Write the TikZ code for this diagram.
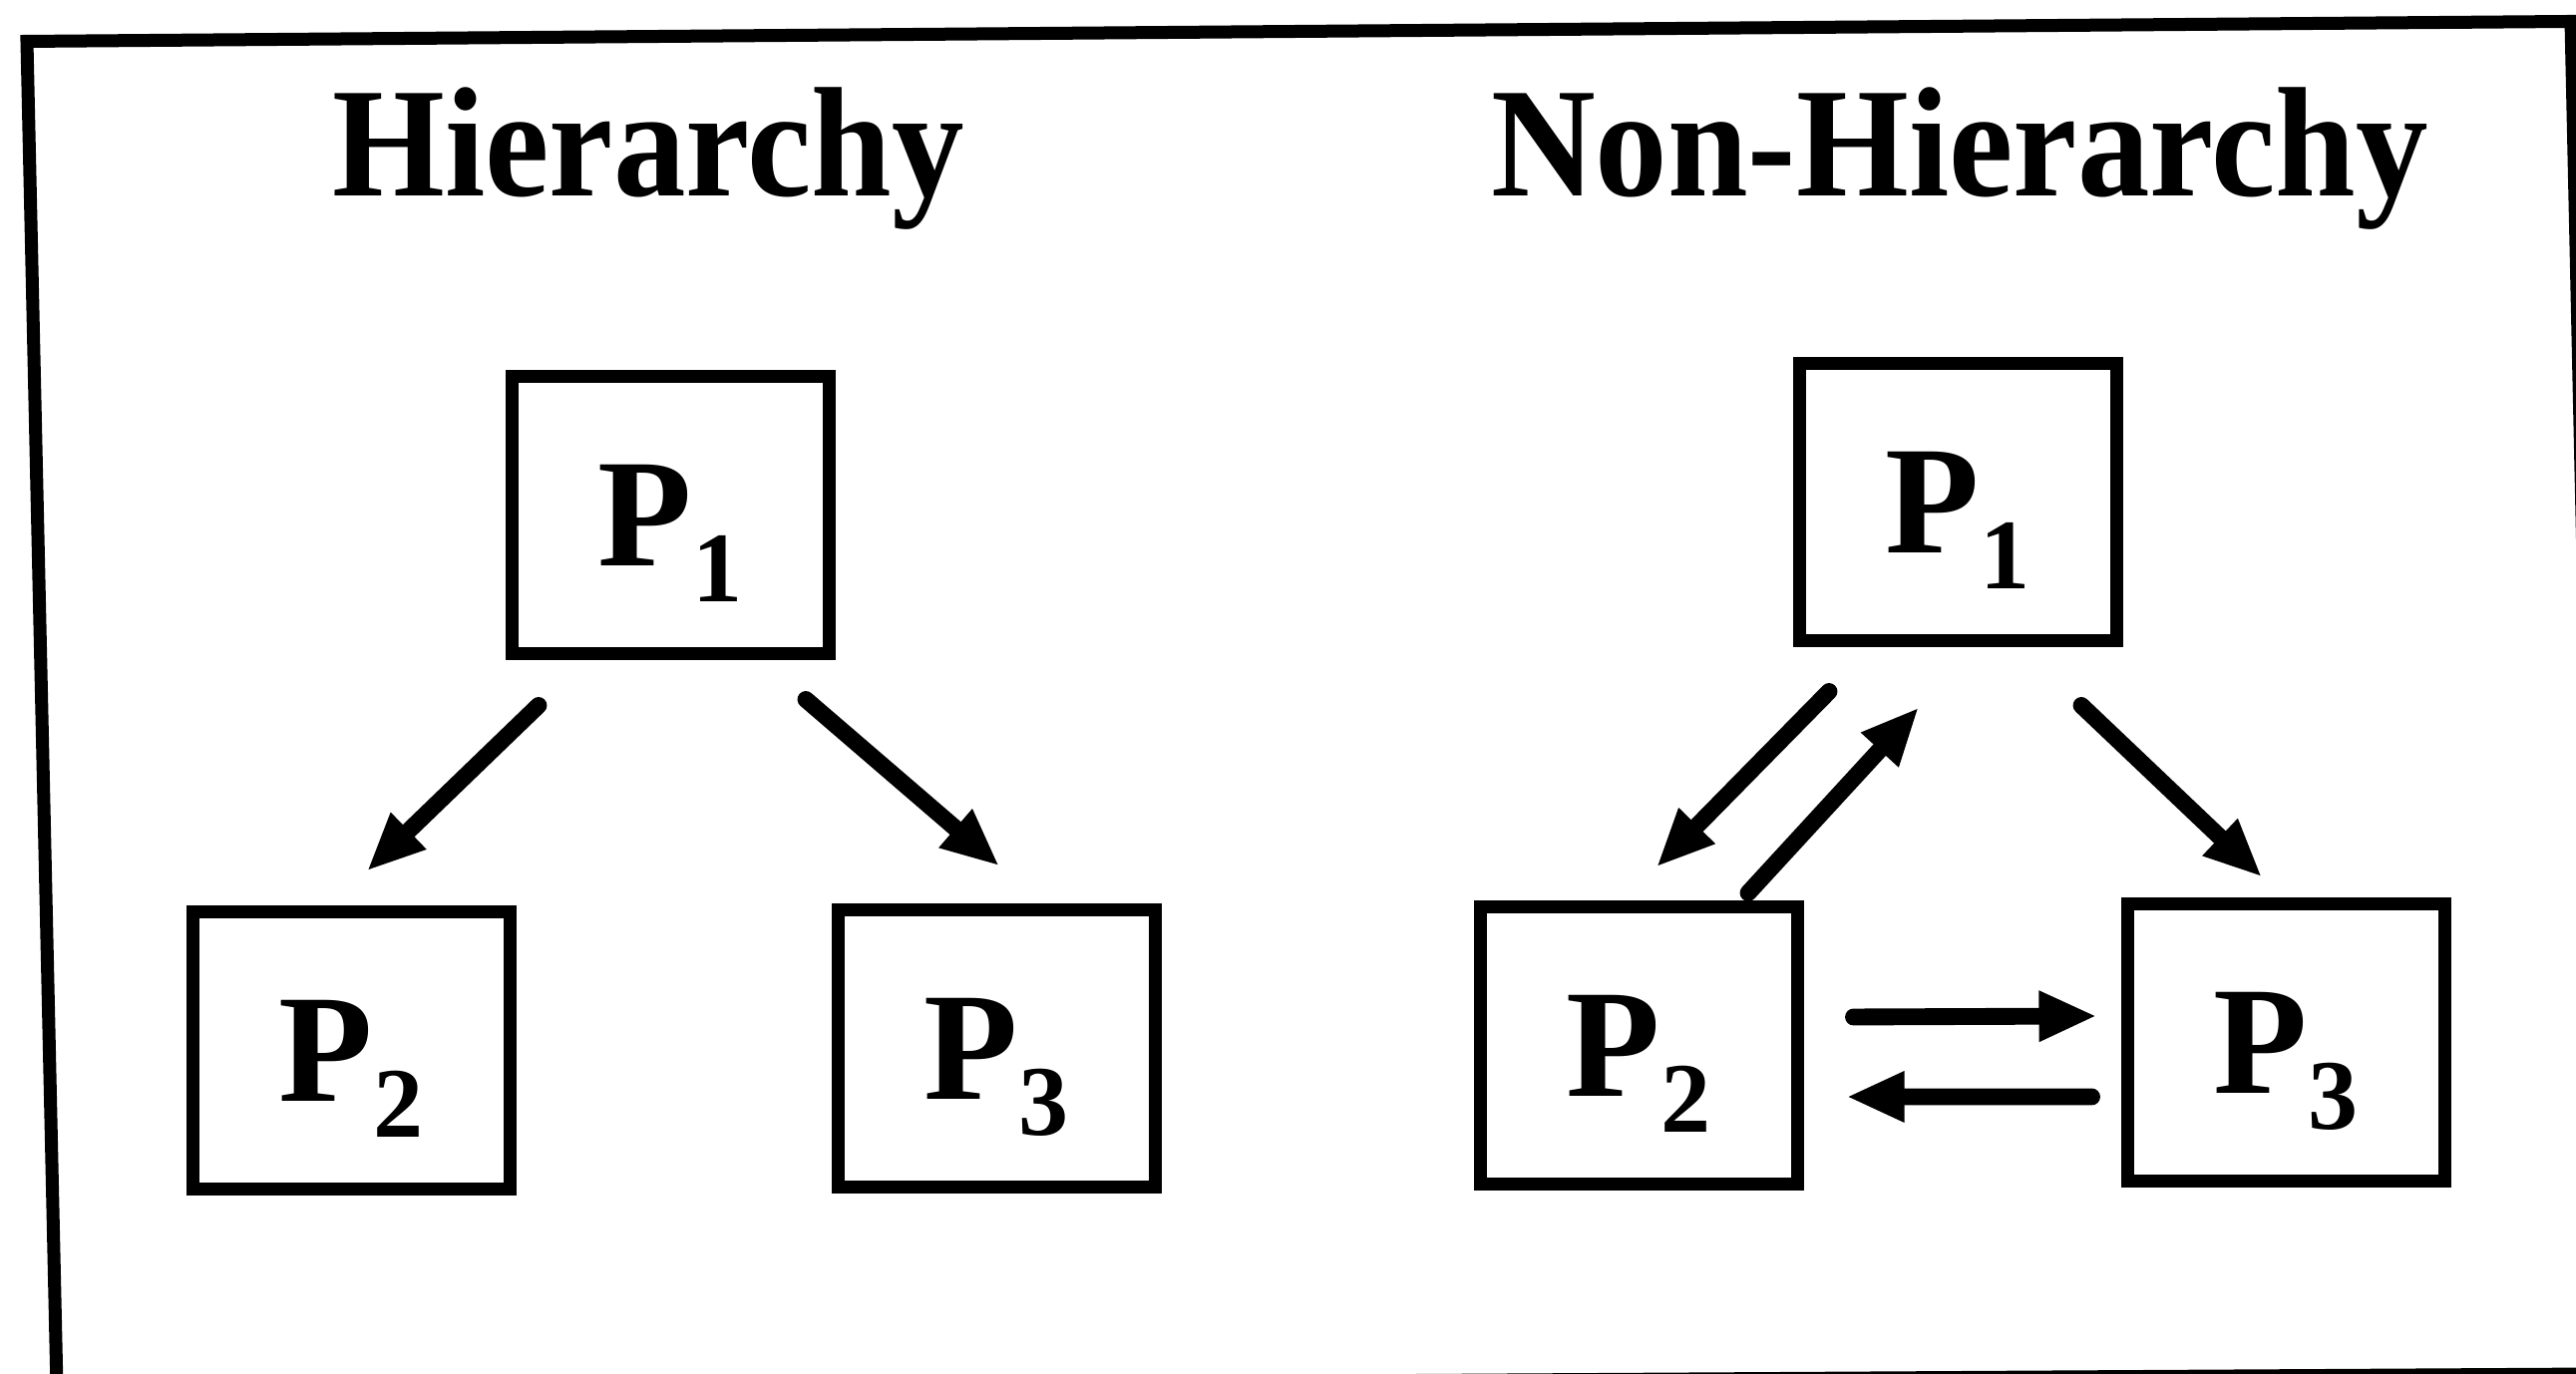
\documentclass[tikz,border=0pt]{standalone}
\usepackage{fontspec}
\setmainfont{Liberation Serif}
\newfontfamily\headfont[FakeStretch=0.925]{Liberation Serif}
\usepackage{tikz}
\usetikzlibrary{arrows.meta, positioning}

% P with a lowered index digit
\newcommand{\procname}[1]{P\raisebox{-10pt}{\fontsize{28.5}{28.5}\selectfont #1}}

\begin{document}
\begin{tikzpicture}[>={Triangle[length=16.5pt, width=13.4pt]},
    procbox/.style={draw, line width=3.7pt, minimum width=3.18cm, minimum height=2.78cm,
        inner sep=0pt, text height=29pt, text depth=0pt,
        font=\fontsize{44}{52}\selectfont\bfseries},
    heading/.style={anchor=base, inner sep=0pt, font=\headfont\fontsize{44.6}{52}\selectfont\bfseries},
    flow/.style={->, line width=4.8pt, line cap=round}]

    \useasboundingbox (0,0) rectangle (25.83,13.78);

    % =================================================================
    % 1. FRAME (slightly tilted, as scanned)
    % =================================================================
    \draw[line width=3.7pt, line join=miter] (0.27,13.365) -- (25.78,13.565)
        -- (26.08,0.00) -- (0.57,-0.14) -- cycle;

    % =================================================================
    % 2. POSITIONS OF THE BOXES
    % =================================================================
    \coordinate (H1) at (6.72,8.61);
    \coordinate (H2) at (3.52,3.24);
    \coordinate (H3) at (9.99,3.26);

    \coordinate (N1) at (19.63,8.74);
    \coordinate (N2) at (16.43,3.29);
    \coordinate (N3) at (22.92,3.32);

    % =================================================================
    % 3. HEADINGS
    % =================================================================
    \node[heading] (hTitle) at (6.50,11.81) {Hierarchy};
    \node[heading] (nTitle) at (19.65,11.81) {Non-Hierarchy};

    % =================================================================
    % 4. BOXES
    % =================================================================
    \node[procbox] (hP1) at (H1) {\procname{1}};
    \node[procbox] (hP2) at (H2) {\procname{2}};
    \node[procbox] (hP3) at (H3) {\procname{3}};

    \node[procbox] (nP1) at (N1) {\procname{1}};
    \node[procbox] (nP2) at (N2) {\procname{2}};
    \node[procbox] (nP3) at (N3) {\procname{3}};

    % =================================================================
    % 5. ARROWS
    % =================================================================
    % hierarchy: only downwards
    \draw[flow] ([shift={(-1.32,-0.45)}]hP1.south) -- ([shift={(0.16,0.35)}]hP2.north);
    \draw[flow] ([shift={(1.36,-0.39)}]hP1.south) -- ([shift={(0.03,0.38)}]hP3.north);

    % non-hierarchy: both ways
    \draw[flow] ([shift={(-1.29,-0.44)}]nP1.south) -- ([shift={(0.18,0.34)}]nP2.north);
    \draw[flow] ([shift={(1.10,0.08)}]nP2.north) -- ([shift={(-0.39,-0.60)}]nP1.south);
    \draw[flow] ([shift={(1.24,-0.58)}]nP1.south) -- ([shift={(-0.24,0.21)}]nP3.north);
    \draw[flow] ([shift={(0.50,0.29)}]nP2.east) -- ([shift={(-0.24,0.27)}]nP3.west);
    \draw[flow] ([shift={(-0.29,-0.54)}]nP3.west) -- ([shift={(0.43,-0.51)}]nP2.east);

\end{tikzpicture}
\end{document}
